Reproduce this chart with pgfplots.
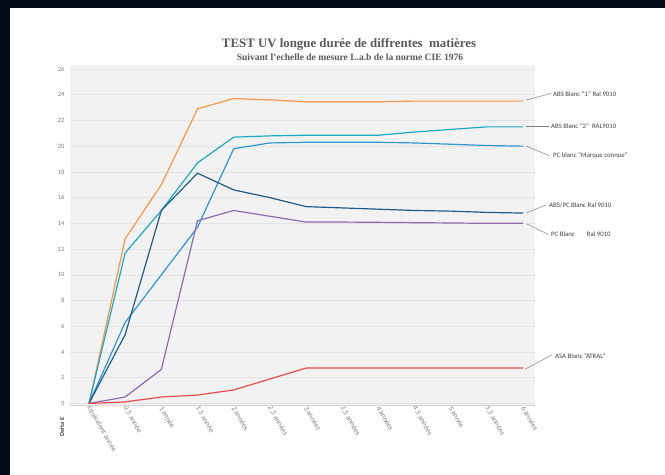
\documentclass[border=0pt]{standalone}
\usepackage{pgfplots}
\pgfplotsset{compat=1.18}
\usepackage{fontspec}
\setmainfont{Carlito}
\newfontfamily\titlefont{Liberation Serif}
\definecolor{bg}{HTML}{F2F2F2}
\definecolor{gridc}{HTML}{E2E2E2}
\definecolor{axc}{HTML}{D6D6D6}
\definecolor{tickc}{HTML}{808080}
\definecolor{labc}{HTML}{404040}
\definecolor{titc}{HTML}{595959}
\definecolor{frame}{HTML}{030B16}
\definecolor{corange}{HTML}{F79646}
\definecolor{ccyan}{HTML}{19AAC4}
\definecolor{cblue}{HTML}{2E95D3}
\definecolor{cdark}{HTML}{1F5C8A}
\definecolor{cpurple}{HTML}{8A6CAE}
\definecolor{cred}{HTML}{EB4B4E}
\begin{document}
\begin{tikzpicture}[x=1bp,y=1bp]
\useasboundingbox (0,0) rectangle (665,475);
\fill[white] (0,0) rectangle (665,475);
\fill[frame] (0,466.5) rectangle (665,475);
\fill[frame] (0,0) rectangle (10,475);
\begin{axis}[
  at={(70bp,70bp)}, anchor=south west,
  scale only axis, width=465bp, height=340bp,
  xmin=-0.525, xmax=12.33, ymin=-0.12, ymax=26.31,
  axis background/.style={fill=bg},
  axis line style={draw=none},
  ytick={0,2,...,26},
  xtick={0,...,12},
  xticklabels={{Equivalent année},{0,5 année},{1 année},{1,5 année},{2 années},{2,5 années},{3 années},{3,5 années},{4 années},{4,5 années},{5 année},{5,5 années},{6 années}},
  ymajorgrids, grid style={color=gridc, line width=0.6pt},
  major tick length=0pt,
  tick label style={font=\fontsize{6.6}{7}\selectfont, text=tickc},
  x tick label style={font=\fontsize{7.4}{8}\selectfont, rotate=-60, anchor=west, xshift=-2bp, yshift=-1bp},
  /pgf/number format/assume math mode=true,
  yticklabel style={xshift=-2bp},
  every axis plot/.append style={line width=1.2pt, mark=none},
  clip=false,
]
\draw[axc, line width=0.8pt] (rel axis cs:0,0) -- (rel axis cs:1,0);
% ABS Blanc "1"
\addplot[corange] coordinates {(0,0) (1,12.8) (2,17.0) (3,22.9) (4,23.7) (5,23.6) (6,23.45) (7,23.45) (8,23.45) (9,23.5) (10,23.5) (11,23.5) (12,23.5)};
% ABS Blanc "2"
\addplot[ccyan] coordinates {(0,0) (1,11.7) (2,15.0) (3,18.7) (4,20.7) (5,20.8) (6,20.85) (7,20.85) (8,20.85) (9,21.1) (10,21.3) (11,21.5) (12,21.5)};
% PC blanc Marque connue
\addplot[cblue] coordinates {(0,0) (1,6.3) (2,10.0) (3,13.7) (4,19.8) (5,20.25) (6,20.3) (7,20.3) (8,20.3) (9,20.25) (10,20.15) (11,20.05) (12,20.0)};
% ABS/PC
\addplot[cdark] coordinates {(0,0) (1,5.35) (2,15.0) (3,17.9) (4,16.6) (5,16.0) (6,15.3) (7,15.2) (8,15.1) (9,15.0) (10,14.95) (11,14.85) (12,14.8)};
% PC Blanc
\addplot[cpurple] coordinates {(0,0) (1,0.5) (2,2.65) (3,14.2) (4,15.0) (5,14.55) (6,14.1) (7,14.1) (8,14.08) (9,14.05) (10,14.03) (11,14.0) (12,14.0)};
% ASA
\addplot[cred] coordinates {(0,0) (1,0.12) (2,0.5) (3,0.65) (4,1.05) (5,1.9) (6,2.75) (7,2.75) (8,2.75) (9,2.75) (10,2.75) (11,2.75) (12,2.75)};
\end{axis}
% titles
\node[font=\titlefont\bfseries\fontsize{12.9}{14}\selectfont, text=titc] at (349,431) {TEST UV longue durée de diffrentes\ \ matières};
\node[font=\titlefont\bfseries\fontsize{9.6}{11}\selectfont, text=titc] at (350,418) {Suivant l’echelle de mesure L.a.b de la norme CIE 1976};
% y label
\node[font=\bfseries\fontsize{6.3}{7}\selectfont, text=labc, rotate=90] at (62,48) {Delta E};
% series labels
\begin{scope}[every node/.style={font=\fontsize{6.8}{8}\selectfont, text=labc, anchor=west, inner sep=0pt}]
\draw[tickc, line width=0.5pt] (526,375) -- (551,381.5);
\node at (553,380.7) {ABS Blanc "1" Ral 9010};
\draw[tickc, line width=0.5pt] (526,349) -- (549,349);
\node at (551,349) {ABS Blanc "2"\ \ RAL9010};
\draw[tickc, line width=0.5pt] (526,329) -- (550,319);
\node at (553,319) {PC blanc "Marque connue"};
\draw[tickc, line width=0.5pt] (527,262.3) -- (546,270);
\node at (549,269.3) {ABS/PC Blanc Ral 9010};
\draw[tickc, line width=0.5pt] (527,251) -- (548,240.7);
\node at (551,240.7) {PC Blanc};
\node at (586.7,240.7) {Ral 9010};
\draw[tickc, line width=0.5pt] (525,105.7) -- (551.7,120);
\node at (555,119.3) {ASA Blanc "ATRAL"};
\end{scope}
\end{tikzpicture}
\end{document}
